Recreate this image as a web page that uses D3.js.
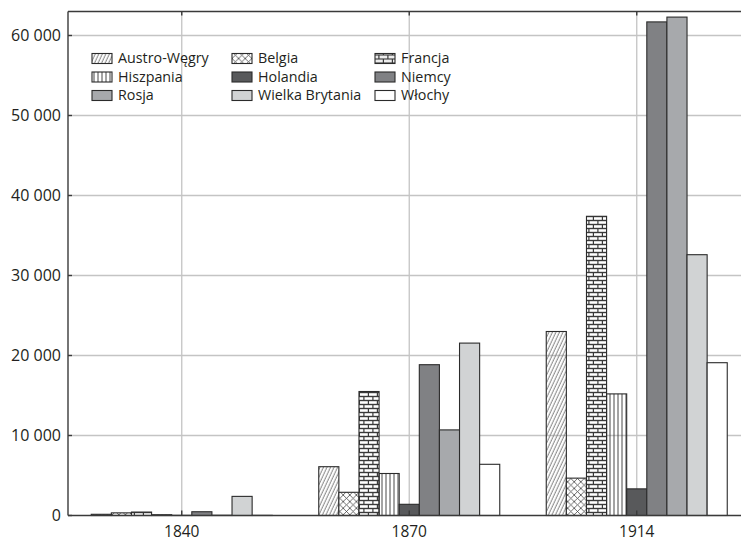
<!DOCTYPE html>
<html>
<head>
<meta charset="utf-8">
<script src="https://cdn.jsdelivr.net/npm/d3@7"></script>
<style>
  html, body { margin: 0; padding: 0; background: #fff; }
  svg { display: block; }
  text { font-family: "Open Sans", sans-serif; fill: #231f20; }
</style>
</head>
<body>
<script>
// ---- data ----
const years = ["1840", "1870", "1914"];
const series = ["Austro-Węgry", "Belgia", "Francja", "Hiszpania", "Holandia", "Niemcy", "Rosja", "Wielka Brytania", "Włochy"];
const austroWegry    = [150, 6100, 23000];
const belgia         = [330, 2900, 4670];
const francja        = [430, 15500, 37400];
const hiszpania      = [100, 5250, 15200];
const holandia       = [20, 1400, 3330];
const niemcy         = [470, 18850, 61700];
const rosja          = [30, 10700, 62300];
const wielkaBrytania = [2390, 21550, 32600];
const wlochy         = [20, 6400, 19100];
const yTicks = [0, 10000, 20000, 30000, 40000, 50000, 60000];

const seriesValues = [austroWegry, belgia, francja, hiszpania, holandia, niemcy, rosja, wielkaBrytania, wlochy];
const fills = ["url(#pAW)", "url(#pBE)", "url(#pFR)", "url(#pHI)", "#58595b", "#808184", "#a7a9ac", "#d1d3d4", "#ffffff"];

const W = 741, H = 541;
const mLeft = 68, mTop = 11.5, mBottom = 515.5, rightEnd = 750.5;

const svg = d3.select("body").append("svg").attr("width", W).attr("height", H);
svg.append("rect").attr("width", W).attr("height", H).attr("fill", "#fff");

// ---- patterns ----
const defs = svg.append("defs");
const pAW = defs.append("pattern").attr("id", "pAW").attr("patternUnits", "userSpaceOnUse")
  .attr("width", 3.2).attr("height", 10).attr("patternTransform", "rotate(25)");
pAW.append("line").attr("x1", 1).attr("y1", 0).attr("x2", 1).attr("y2", 10)
  .attr("stroke", "#7a7a7a").attr("stroke-width", 0.9);
const pBE = defs.append("pattern").attr("id", "pBE").attr("patternUnits", "userSpaceOnUse")
  .attr("width", 6.6).attr("height", 6.6);
pBE.append("rect").attr("width", 6.6).attr("height", 6.6).attr("fill", "#fff");
pBE.append("path").attr("d", "M0,0L6.6,6.6M6.6,0L0,6.6M-1,1L1,-1M5.6,7.6L7.6,5.6")
  .attr("stroke", "#444").attr("stroke-width", 0.8).attr("fill", "none");
const pFR = defs.append("pattern").attr("id", "pFR").attr("patternUnits", "userSpaceOnUse")
  .attr("width", 9).attr("height", 8);
pFR.append("rect").attr("width", 9).attr("height", 8).attr("fill", "#3a3a3a");
pFR.append("rect").attr("x", 0).attr("y", 1.2).attr("width", 7.8).attr("height", 2.6).attr("fill", "#fff");
pFR.append("rect").attr("x", 0).attr("y", 5.2).attr("width", 3.3).attr("height", 2.6).attr("fill", "#fff");
pFR.append("rect").attr("x", 4.5).attr("y", 5.2).attr("width", 4.5).attr("height", 2.6).attr("fill", "#fff");
const pHI = defs.append("pattern").attr("id", "pHI").attr("patternUnits", "userSpaceOnUse")
  .attr("width", 4).attr("height", 10);
pHI.append("line").attr("x1", 2).attr("y1", 0).attr("x2", 2).attr("y2", 10)
  .attr("stroke", "#333").attr("stroke-width", 0.9);

// ---- scales ----
const x0 = d3.scaleBand().domain(years).range([mLeft, rightEnd]).padding(0);
const x1 = d3.scaleBand().domain(series).range([23.25, 204.25]).padding(0);
const y = d3.scaleLinear().domain([0, 63000]).range([mBottom, mTop]);

const fmt = d3.formatLocale({ decimal: ",", thousands: "\u00a0", grouping: [3], currency: ["", ""] }).format(",d");
const cx = d => x0(d) + x0.bandwidth() / 2;

// ---- grid ----
const grid = svg.append("g");
grid.selectAll("line.h").data(yTicks.filter(d => d > 0)).join("line")
  .attr("x1", mLeft).attr("x2", W)
  .attr("y1", d => y(d)).attr("y2", d => y(d))
  .attr("stroke", "#c4c4c4").attr("stroke-width", 1.3);
grid.selectAll("line.v").data(years).join("line")
  .attr("x1", cx).attr("x2", cx)
  .attr("y1", mTop).attr("y2", mBottom)
  .attr("stroke", "#c4c4c4").attr("stroke-width", 1.3);

// ---- bars ----
const barData = [];
years.forEach((yr, i) => series.forEach((s, j) => barData.push({ yr, s, j, v: seriesValues[j][i] })));
svg.append("g").selectAll("rect").data(barData).join("rect")
  .attr("x", d => x0(d.yr) + x1(d.s))
  .attr("width", x1.bandwidth())
  .attr("y", d => y(d.v))
  .attr("height", d => y(0) - y(d.v))
  .attr("fill", d => fills[d.j])
  .attr("stroke", "#2b2b2b").attr("stroke-width", 1.1);

// ---- frame / axes ----
const frame = svg.append("g").attr("stroke", "#3a3a3a").attr("stroke-width", 1.4);
frame.append("line").attr("x1", mLeft).attr("x2", W).attr("y1", mTop).attr("y2", mTop);
frame.append("line").attr("x1", mLeft).attr("x2", W).attr("y1", mBottom).attr("y2", mBottom);
frame.append("line").attr("x1", mLeft).attr("x2", mLeft).attr("y1", mTop).attr("y2", mBottom);
frame.selectAll("line.tb").data(years).join("line")
  .attr("x1", cx).attr("x2", cx).attr("y1", mBottom).attr("y2", mBottom - 5);
frame.selectAll("line.tt").data(years).join("line")
  .attr("x1", cx).attr("x2", cx).attr("y1", mTop).attr("y2", mTop + 4);
frame.selectAll("line.ty").data(yTicks).join("line")
  .attr("x1", mLeft).attr("x2", mLeft + 4)
  .attr("y1", d => y(d)).attr("y2", d => y(d));

// labels
svg.append("g").selectAll("text").data(yTicks).join("text")
  .attr("x", mLeft - 7).attr("y", d => y(d)).attr("dy", "0.36em")
  .attr("text-anchor", "end").attr("font-size", 16)
  .text(d => fmt(d));
svg.append("g").selectAll("text").data(years).join("text")
  .attr("x", cx).attr("y", 531).attr("dy", "0.36em")
  .attr("text-anchor", "middle").attr("font-size", 15.5)
  .text(d => d);

// ---- legend ----
const colX = [92, 232, 375];
const rowY = [58.5, 77, 95.5];
const leg = svg.append("g").selectAll("g").data(series).join("g")
  .attr("transform", (d, i) => `translate(${colX[i % 3]},${rowY[Math.floor(i / 3)]})`);
leg.append("rect").attr("x", 0).attr("y", -5).attr("width", 20).attr("height", 10)
  .attr("fill", (d, i) => fills[i]).attr("stroke", "#2b2b2b").attr("stroke-width", 1.1);
leg.append("text").attr("x", 26).attr("y", 0).attr("dy", "0.34em").attr("font-size", 14.3)
  .text(d => d);
</script>
</body>
</html>
